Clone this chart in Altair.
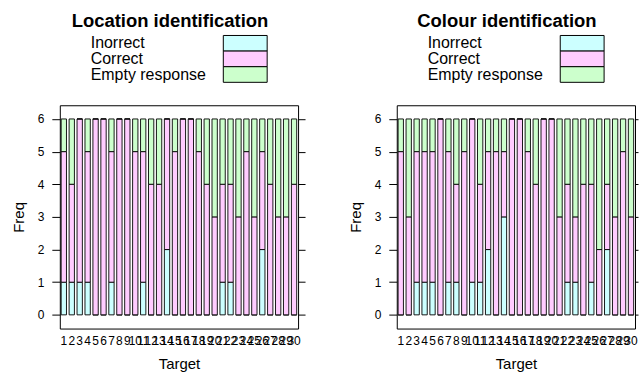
import altair as alt
import pandas as pd

targets = list(range(1, 31))
categories = ["Inorrect", "Correct", "Empty response"]
colours = ["#CCFFFF", "#FFCCFF", "#CCFFCC"]
y_ticks = [0, 1, 2, 3, 4, 5, 6]

# Location identification
loc_incorrect = [1, 1, 1, 1, 0, 0, 1, 0, 0, 0, 1, 0, 0, 2, 0, 0, 0, 0, 0, 0, 1, 1, 0, 0, 0, 2, 0, 0, 0, 0]
loc_correct = [4, 3, 5, 4, 6, 6, 4, 6, 6, 5, 4, 4, 4, 4, 5, 6, 6, 5, 4, 3, 3, 3, 3, 5, 3, 3, 4, 3, 3, 4]
loc_empty = [1, 2, 0, 1, 0, 0, 1, 0, 0, 1, 1, 2, 2, 0, 1, 0, 0, 1, 2, 3, 2, 2, 3, 1, 3, 1, 2, 3, 3, 2]

# Colour identification
col_incorrect = [0, 0, 1, 1, 1, 0, 1, 1, 0, 1, 1, 2, 0, 3, 0, 0, 0, 0, 0, 0, 0, 1, 1, 0, 1, 0, 2, 0, 0, 0]
col_correct = [5, 3, 4, 4, 4, 6, 4, 3, 5, 5, 3, 3, 5, 2, 6, 6, 5, 4, 6, 6, 3, 3, 2, 4, 3, 2, 2, 3, 5, 3]
col_empty = [1, 3, 1, 1, 1, 0, 1, 2, 1, 0, 2, 1, 1, 1, 0, 0, 1, 2, 0, 0, 3, 2, 3, 2, 2, 4, 2, 3, 1, 3]

FONT = "Liberation Sans"


def make_df(inc, cor, emp):
    rows = []
    for t, a, b, c in zip(targets, inc, cor, emp):
        for k, (cat, v) in enumerate(zip(categories, (a, b, c))):
            rows.append({"Target": t, "Response": cat, "Freq": v, "k": k})
    return pd.DataFrame(rows)


legend_df = pd.DataFrame({"Response": categories})


def panel(df, title, right_tick):
    x = alt.X(
        "Target:O",
        sort=targets,
        scale=alt.Scale(paddingInner=0.33, paddingOuter=0.17),
        axis=alt.Axis(
            title="Target", labelAngle=0, labelOverlap=False, ticks=False, tickSize=0,
            domain=False, grid=False, labelFontSize=12, labelPadding=7,
            titleFontSize=15, titlePadding=10, titleFontWeight="normal", labelColor="black",
            titleColor="black",
        ),
    )
    yscale = alt.Scale(domain=[-0.42, 6.42], nice=False, zero=False)
    color = alt.Color("Response:N", scale=alt.Scale(domain=categories, range=colours), legend=None)
    bars = alt.Chart(df).mark_bar(stroke="black", strokeWidth=0.9).encode(
        x=x,
        y=alt.Y(
            "Freq:Q", stack="zero", scale=yscale,
            axis=alt.Axis(
                title="Freq", values=y_ticks, tickSize=8, labelPadding=8, domain=False, grid=False,
                labelFontSize=12, titleFontSize=15, titleFontWeight="normal", titlePadding=11,
                tickColor="black", labelColor="black", titleColor="black",
            ),
        ),
        color=color,
        order=alt.Order("k:Q"),
    )
    right_axis = alt.Chart(df).mark_bar(opacity=0).encode(
        x=x,
        y=alt.Y(
            "Freq:Q", stack="zero", scale=yscale,
            axis=alt.Axis(
                orient="right", title=None, labels=False, values=y_ticks, tickSize=right_tick,
                domain=False, grid=False, tickColor="black",
            ),
        ),
        order=alt.Order("k:Q"),
    )
    ly = alt.Y(
        "Response:N", sort=categories,
        scale=alt.Scale(type="band", range=[-70, -23], paddingInner=0, paddingOuter=0),
        axis=None,
    )
    leg_rect = alt.Chart(legend_df).mark_rect(stroke="black", strokeWidth=1).encode(
        x=alt.value(164), x2=alt.value(208), y=ly, color=color
    )
    leg_text = alt.Chart(legend_df).mark_text(
        align="left", baseline="middle", fontSize=16, font=FONT, color="black"
    ).encode(x=alt.value(31), y=ly, text="Response:N")
    return (
        alt.layer(bars, right_axis, leg_rect, leg_text)
        .resolve_scale(y="independent")
        .properties(
            width=239, height=224,
            title=alt.TitleParams(
                text=title, fontSize=18.5, fontWeight="bold", anchor="middle", frame="group",
                dx=-9, offset=-11, baseline="alphabetic", color="black", font=FONT,
            ),
        )
    )


left = panel(make_df(loc_incorrect, loc_correct, loc_empty), "Location identification", 7)
right = panel(make_df(col_incorrect, col_correct, col_empty), "Colour identification", 3)

chart = (
    alt.hconcat(left, right, spacing=41)
    .properties(padding={"left": 10, "top": 11, "right": 0, "bottom": 0}, background="white")
    .configure(font=FONT)
    .configure_view(stroke="black", strokeWidth=1)
)

chart.save("out.html", embed_options={"renderer": "svg", "actions": False})
